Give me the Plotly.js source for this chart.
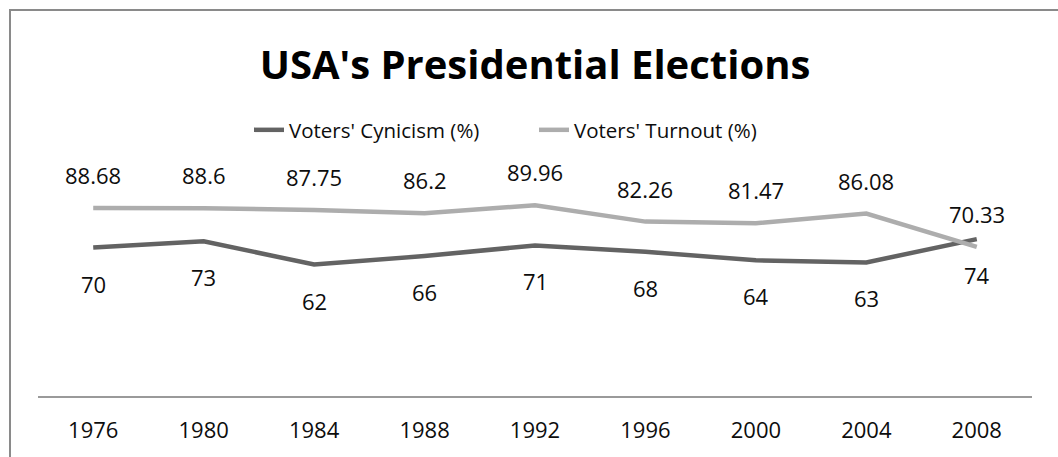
<!DOCTYPE html>
<html>
<head>
<meta charset="utf-8">
<script src="https://cdn.plot.ly/plotly-3.0.1.min.js"></script>
<style>
html,body{margin:0;padding:0;background:#fff;}
#chart{width:1058px;height:457px;}
</style>
</head>
<body>
<div id="chart"></div>
<script>
const years = ["1976","1980","1984","1988","1992","1996","2000","2004","2008"];
const cynicism = [70, 73, 62, 66, 71, 68, 64, 63, 74];
const turnout = [88.68, 88.6, 87.75, 86.2, 89.96, 82.26, 81.47, 86.08, 70.33];
const cynicismName = "Voters' Cynicism (%)";
const turnoutName = "Voters' Turnout (%)";
const titleText = "USA's Presidential Elections";

const FONT = "Open Sans, Noto Sans, sans-serif";
const darkColor = "#636363";
const lightColor = "#adadad";

const traces = [
  {x: years, y: cynicism, name: cynicismName, type: "scatter", mode: "lines",
   line: {color: darkColor, width: 4.5}, hoverinfo: "x+y"},
  {x: years, y: turnout, name: turnoutName, type: "scatter", mode: "lines",
   line: {color: lightColor, width: 4.5}, hoverinfo: "x+y"}
];

const annotations = [];
years.forEach((yr, i) => {
  annotations.push({x: i, y: turnout[i], xref: "x", yref: "y", text: String(turnout[i]),
    showarrow: false, yshift: 33, font: {family: FONT, size: 22, color: "#0d0d0d"}});
  annotations.push({x: i, y: cynicism[i], xref: "x", yref: "y", text: String(cynicism[i]),
    showarrow: false, yshift: -36, font: {family: FONT, size: 22, color: "#0d0d0d"}});
});

const layout = {
  width: 1058, height: 457,
  margin: {l: 38, r: 26, t: 184, b: 61, pad: 0},
  paper_bgcolor: "#ffffff", plot_bgcolor: "#ffffff",
  font: {family: FONT, size: 22, color: "#0d0d0d"},
  title: {text: "<b>" + titleText + "</b>", x: 0.5, xref: "paper", xanchor: "center",
          y: 1 - 65/457, yref: "container", yanchor: "middle",
          font: {family: FONT, size: 40, color: "#000000"}},
  showlegend: true,
  legend: {orientation: "h", x: (249 - 38)/994, xanchor: "left", y: (396 - 130)/212, yanchor: "middle",
           entrywidth: 240, entrywidthmode: "pixels", font: {family: FONT, size: 20.5, color: "#0d0d0d"},
           bgcolor: "rgba(0,0,0,0)", borderwidth: 0},
  xaxis: {type: "category", range: [-0.5, 8.5], showgrid: false, zeroline: false,
          showline: true, linecolor: "#9a9a9a", linewidth: 2, ticks: "", ticklabelstandoff: 14,
          tickfont: {family: FONT, size: 22, color: "#0d0d0d"}, fixedrange: true},
  yaxis: {range: [0, 100], showticklabels: false, showline: false, ticks: "", showgrid: false,
          zeroline: false, fixedrange: true},
  annotations: annotations,
  shapes: [
    {type: "line", xref: "paper", yref: "paper", x0: (10 - 38)/994, x1: (10 - 38)/994,
     y0: (396 - 9)/212, y1: (396 - 470)/212, line: {color: "#8a8a8a", width: 2}},
    {type: "line", xref: "paper", yref: "paper", x0: (9 - 38)/994, x1: (1070 - 38)/994,
     y0: (396 - 10)/212, y1: (396 - 10)/212, line: {color: "#8a8a8a", width: 2}}
  ]
};

Plotly.newPlot("chart", traces, layout, {displayModeBar: false, staticPlot: true});
</script>
</body>
</html>
